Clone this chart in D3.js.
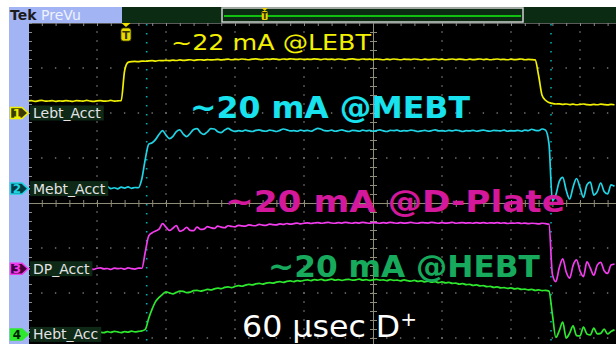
<!DOCTYPE html>
<html>
<head>
<meta charset="utf-8">
<title>Beam current along the linac</title>
<script src="https://cdn.jsdelivr.net/npm/d3@7/dist/d3.min.js"></script>
<style>
  html, body { margin: 0; padding: 0; background: #ffffff; overflow: hidden; }
  svg { display: block; }
  text { font-family: "DejaVu Sans", Verdana, sans-serif; }
</style>
</head>
<body>
<svg id="scope" width="616" height="344"></svg>
<script>
// ---- acquisition settings ----
const sampleStart = -50;      // µs, time of first sample
const sampleStep = 0.5;       // µs between samples
const timeRange = [-50, 50];  // 10 div x 10 µs/div
const divRange = [-4, 4];     // 8 vertical divisions
const triggerTime = -35.8;    // µs
const cursorTimes = [-32.8, 25.8];

// ---- channels ----
const channelNames = ["Lebt_Acct", "Mebt_Acct", "DP_Acct", "Hebt_Acc"];
const channelNumbers = ["1", "2", "3", "4"];
const channelScale = [24, 16, 20, 18];            // mA per division
const channelOffset = [2.0, 0.32, -1.46, -2.92];  // division holding 0 mA

// ---- annotations ----
const annotationTexts = ["~22 mA @LEBT", "~20 mA @MEBT", "~20 mA @D-Plate", "~20 mA @HEBT"];
const pulseNote = ["60 μsec D", "+"];

// ---- beam current samples (mA), one every 0.5 µs from -50 µs ----
const lebt = [
  6.4,6.6,6.2,6.5,6.7,6.3,6.4,6.6,6.2,6.5,
  6.3,6.6,6.4,6.2,6.6,6.5,6.3,6.7,6.4,6.2,
  6.5,6.6,6.3,6.4,6.7,6.3,6.5,6.6,22.5,27.0,
  27.4,27.5,27.4,27.7,27.6,27.8,27.9,27.7,28.0,27.9,
  28.1,27.9,28.2,28.0,28.3,28.1,28.2,28.4,28.1,28.3,
  28.4,28.2,28.5,28.3,28.4,28.6,28.3,28.5,28.7,28.4,
  28.6,28.5,28.8,28.6,28.4,28.7,28.9,28.6,28.5,28.8,
  28.6,28.9,28.7,28.5,28.8,28.6,28.9,28.7,28.6,28.8,
  28.5,28.7,28.6,28.9,28.7,28.5,28.8,28.6,28.7,28.5,
  28.8,28.6,28.4,28.7,28.9,28.6,28.5,28.8,28.6,28.7,
  28.5,28.8,28.6,28.4,28.7,28.5,28.8,28.6,28.4,28.7,
  28.6,28.5,28.8,28.6,28.4,28.7,28.5,28.6,28.8,28.5,
  28.7,28.4,28.6,28.8,28.5,28.7,28.6,28.4,28.7,28.5,
  28.6,28.8,28.5,28.7,28.4,28.6,28.8,28.5,28.6,28.4,
  28.7,28.5,28.6,28.8,28.4,28.6,28.5,28.3,20.0,9.5,
  6.8,5.6,5.1,4.8,4.9,4.6,4.8,4.5,4.7,4.4,
  4.6,4.8,4.5,4.3,4.6,4.4,4.7,4.5,4.3,4.6,
  4.4
];
const mebt = [
  0.2,-0.3,0.5,0.0,0.4,-0.2,0.3,0.6,-0.1,0.2,
  0.5,0.0,-0.3,0.4,0.1,0.6,-0.2,0.3,0.0,0.5,
  0.2,-0.2,0.4,0.7,0.0,0.3,-0.1,0.5,0.2,0.6,
  0.1,0.4,0.3,3.5,10.5,15.8,16.3,17.5,19.3,20.6,
  19.0,17.8,18.6,20.3,20.9,19.4,18.5,19.6,21.0,21.3,
  19.9,19.3,20.2,21.3,21.2,20.2,19.9,20.8,21.4,20.7,
  20.3,20.6,20.4,20.8,20.5,20.3,20.7,20.9,20.5,20.4,
  20.8,20.6,20.3,20.7,21.2,20.9,20.5,20.6,20.4,20.8,
  20.5,20.7,20.4,20.9,21.4,21.1,20.6,20.5,20.8,20.4,
  20.6,20.9,20.5,20.3,20.7,20.6,20.4,20.8,20.5,20.7,
  20.4,20.6,20.9,20.5,20.3,20.7,20.6,20.8,20.4,20.6,
  20.5,20.8,20.6,20.3,20.5,20.7,20.4,20.6,20.9,20.5,
  20.6,20.4,20.7,20.5,20.8,20.6,20.3,20.6,20.5,20.7,
  20.4,20.6,20.8,20.5,20.4,20.7,20.6,20.5,20.8,20.4,
  20.6,20.5,20.7,20.4,20.8,20.6,21.1,20.7,20.6,21.2,
  20.8,16.0,-4.3,-2.2,2.6,4.0,-0.6,-3.7,0.6,3.6,
  0.4,-3.1,1.3,2.3,-2.3,-1.1,2.0,-1.0,-1.9,1.3,
  0.8
];
const dp = [
  0.1,-0.3,0.3,0.0,-0.2,0.4,0.1,-0.4,0.2,0.0,
  0.3,-0.1,0.2,-0.3,0.4,0.0,-0.2,0.3,0.1,-0.3,
  0.2,0.4,-0.1,0.1,-0.3,0.3,0.0,0.2,-0.2,0.4,
  0.0,-0.2,0.3,0.2,7.5,14.6,16.0,16.8,17.6,20.0,
  18.5,17.0,18.0,19.2,16.6,17.2,18.4,17.0,16.9,18.5,
  17.5,17.6,18.7,18.2,17.9,18.9,18.5,18.2,19.1,18.8,
  18.6,19.3,19.0,18.9,19.5,19.2,19.1,19.7,19.4,19.3,
  19.8,19.6,19.5,19.9,19.7,20.1,19.8,20.0,20.3,19.9,
  20.2,20.4,20.1,20.3,20.5,20.2,20.4,20.6,20.3,20.2,
  20.5,20.3,20.6,20.4,20.2,20.5,20.3,20.6,20.4,20.2,
  20.5,20.4,20.2,20.5,20.3,20.6,20.4,20.2,20.5,20.3,
  20.4,20.6,20.3,20.2,20.5,20.4,20.3,20.6,20.4,20.2,
  20.5,20.3,20.4,20.6,20.2,20.4,20.5,20.3,20.4,20.2,
  20.5,20.3,20.5,20.2,20.4,20.3,20.5,20.2,20.4,20.1,
  20.3,20.2,20.4,20.1,20.3,20.0,20.2,20.1,19.9,20.2,
  20.0,19.8,-2.5,-5.8,0.5,4.4,-1.5,-4.2,1.5,3.9,
  -1.0,-3.5,3.0,0.2,-2.9,1.6,2.8,-0.9,-2.1,1.6,
  2.0
];
const hebt = [
  1.0,0.7,1.2,0.9,0.6,1.1,1.3,0.8,1.0,0.6,
  1.2,0.9,1.1,0.7,1.0,1.3,0.8,1.1,0.6,1.0,
  1.2,0.9,0.7,1.1,0.8,1.2,1.0,0.7,1.1,0.9,
  1.3,1.0,1.2,1.4,2.0,6.5,10.2,13.2,14.8,16.0,
  17.0,16.6,16.2,16.8,17.3,17.2,16.7,16.9,17.5,17.6,
  17.3,17.6,18.0,17.8,18.2,18.5,18.3,18.8,19.0,18.7,
  19.2,19.5,19.3,19.7,20.0,19.8,20.2,20.4,20.1,20.5,
  20.7,20.5,20.9,21.1,20.8,21.2,21.4,21.1,21.5,21.3,
  21.6,21.8,21.5,21.9,21.7,22.0,21.6,21.8,22.1,21.7,
  21.9,21.6,21.9,22.0,21.7,21.8,22.1,21.7,21.9,21.6,
  21.8,22.0,21.7,21.8,21.5,21.9,21.6,21.7,21.4,21.8,
  21.5,21.3,21.6,21.2,21.4,21.0,21.3,20.9,21.1,20.7,
  21.0,20.6,20.8,20.4,20.5,20.1,20.3,19.9,20.0,19.6,
  19.8,19.4,19.5,19.1,19.2,18.8,19.0,18.6,18.7,18.4,
  18.6,18.2,18.4,18.0,18.1,17.8,18.0,17.6,17.8,17.5,
  17.6,17.3,8.0,-1.2,1.5,4.9,-1.4,0.5,3.4,-0.5,
  -0.6,2.9,0.2,-0.2,2.5,0.2,0.4,2.1,0.2,1.2,
  1.8
];

// ---- drawing ----
const W = 616, H = 344;
const traces = [lebt, mebt, dp, hebt];
const traceColors = ["#f0f000", "#1fd4e4", "#f23cee", "#2ee82e"];
const noteColors = ["#f2f000", "#18e2ee", "#d3189c", "#17aa5d", "#ffffff"];
const markerFill = ["#3a3a00", "#003a40", "#44003c", "#2ee82e"];
const markerText = ["#f0f000", "#1fd4e4", "#f23cee", "#002000"];

const svg = d3.select("#scope");
const gx0 = 28, gy0 = 23, gw = 690, gh = 360;
const x = d3.scaleLinear().domain(timeRange).range([gx0, gx0 + gw]);
const y = d3.scaleLinear().domain(divRange).range([gy0 + gh, gy0]);

svg.append("defs").append("clipPath").attr("id", "screen")
  .append("rect").attr("x", 29).attr("y", gy0).attr("width", W - 29).attr("height", H - gy0);

// side panel and header strip
const panelBlue = "#a2b4f4";
svg.append("rect").attr("x", 9).attr("y", 7).attr("width", 20).attr("height", H - 7).attr("fill", panelBlue);
svg.append("rect").attr("x", 9).attr("y", 7).attr("width", 113).attr("height", 16).attr("fill", panelBlue);
svg.append("text").attr("x", 10).attr("y", 20).attr("font-size", 14).attr("font-weight", 700)
  .attr("fill", "#1c1c1c").text("Tek");
svg.append("text").attr("x", 41).attr("y", 20).attr("font-size", 14)
  .attr("fill", "#eef2ff").text("PreVu");

// record view bar
svg.append("rect").attr("x", 122).attr("y", 7).attr("width", W - 122).attr("height", 16).attr("fill", "#0b2c12");
const rec = d3.scaleLinear().domain(timeRange).range([222, 523]);
svg.append("rect").attr("x", rec(timeRange[0])).attr("y", 8).attr("width", rec(timeRange[1]) - rec(timeRange[0]))
  .attr("height", 14).attr("fill", "none").attr("stroke", "#cfcfcf").attr("stroke-width", 1.5);
svg.append("line").attr("x1", rec(timeRange[0]) + 2).attr("x2", rec(timeRange[1]) - 2)
  .attr("y1", 16).attr("y2", 16).attr("stroke", "#12c012").attr("stroke-width", 2);
const rt = rec(triggerTime);
svg.append("path").attr("d", `M${rt - 3},8 L${rt + 3},8 L${rt},11 Z`).attr("fill", "#f0d000");
svg.append("rect").attr("x", rt - 3).attr("y", 11).attr("width", 6).attr("height", 9).attr("rx", 1.5)
  .attr("fill", "#e8d000");
svg.append("text").attr("x", rt).attr("y", 19).attr("text-anchor", "middle").attr("font-size", 8)
  .attr("font-weight", 700).attr("fill", "#2a2a00").text("T");

// screen background
svg.append("rect").attr("x", 29).attr("y", gy0).attr("width", W - 29).attr("height", H - gy0).attr("fill", "#000");

const screen = svg.append("g").attr("clip-path", "url(#screen)");

// graticule
const majorT = d3.range(timeRange[0], timeRange[1] + 1e-9, 10);
const minorT = d3.range(timeRange[0], timeRange[1] + 1e-9, 2);
const majorD = d3.range(divRange[0], divRange[1] + 1e-9, 1);
const minorD = d3.range(0, 40.5, 1).map(k => divRange[0] + k * 0.2);

const dots = [];
majorT.filter(t => t !== 0 && t !== timeRange[0]).forEach(t => minorD.forEach(d => dots.push([x(t), y(d)])));
majorD.filter(d => d !== 0 && d !== divRange[1]).forEach(d => minorT.forEach(t => dots.push([x(t), y(d)])));
screen.append("g").selectAll("rect").data(dots).join("rect")
  .attr("x", d => d[0] - 0.7).attr("y", d => d[1] - 0.7).attr("width", 1.4).attr("height", 1.4)
  .attr("fill", "#7c7c7c");

const axisColor = "#8f8c78";
const cross = screen.append("g").attr("stroke", axisColor).attr("stroke-width", 1);
cross.append("line").attr("x1", x(0) + 0.5).attr("x2", x(0) + 0.5).attr("y1", gy0).attr("y2", gy0 + gh);
cross.append("line").attr("x1", gx0).attr("x2", gx0 + gw).attr("y1", y(0) + 0.5).attr("y2", y(0) + 0.5);
cross.selectAll("line.ty").data(minorD).join("line").attr("class", "ty")
  .attr("x1", x(0) - 3).attr("x2", x(0) + 4).attr("y1", d => y(d) + 0.5).attr("y2", d => y(d) + 0.5);
cross.selectAll("line.tx").data(minorT).join("line").attr("class", "tx")
  .attr("x1", t => x(t) + 0.5).attr("x2", t => x(t) + 0.5).attr("y1", y(0) - 3).attr("y2", y(0) + 4);

// frame ticks along top and left edges
const edge = screen.append("g").attr("stroke", "#8a8a8a").attr("stroke-width", 1);
edge.append("line").attr("x1", gx0).attr("x2", W).attr("y1", gy0 + 0.5).attr("y2", gy0 + 0.5).attr("stroke", "#5a5a5a");
edge.selectAll("line.et").data(minorT).join("line").attr("class", "et")
  .attr("x1", t => x(t) + 0.5).attr("x2", t => x(t) + 0.5).attr("y1", gy0).attr("y2", gy0 + 3);
edge.selectAll("line.el").data(minorD).join("line").attr("class", "el")
  .attr("x1", 29).attr("x2", 32).attr("y1", d => y(d) + 0.5).attr("y2", d => y(d) + 0.5);

// time cursors
screen.selectAll("line.cursor").data(cursorTimes).join("line").attr("class", "cursor")
  .attr("x1", t => x(t)).attr("x2", t => x(t)).attr("y1", gy0 + 1).attr("y2", H)
  .attr("stroke", "#00aeb4").attr("stroke-width", 1.6).attr("stroke-dasharray", "1.6 7.4");

// waveforms
traces.forEach((vals, c) => {
  const line = d3.line()
    .x((v, i) => x(sampleStart + i * sampleStep))
    .y(v => y(channelOffset[c] + v / channelScale[c]))
    .curve(d3.curveMonotoneX);
  screen.append("path").datum(vals).attr("d", line)
    .attr("fill", "none").attr("stroke", traceColors[c]).attr("stroke-width", 1.7)
    .attr("stroke-linejoin", "round");
});

// annotations, each stretched to its measured width
function placeText(sel, x0, base, width) {
  const w = sel.node().getComputedTextLength();
  sel.attr("transform", `translate(${x0},${base}) scale(${width / w},1)`);
}
const noteLayout = [
  { x: 171, base: 49.5, w: 200, size: 21.5, weight: 400 },
  { x: 190, base: 118, w: 280, size: 30, weight: 700 },
  { x: 225, base: 212, w: 340, size: 30, weight: 700 },
  { x: 268, base: 277, w: 272, size: 30, weight: 700 }
];
annotationTexts.forEach((s, k) => {
  const L = noteLayout[k];
  const t = screen.append("text").attr("font-size", L.size).attr("font-weight", L.weight)
    .attr("fill", noteColors[k]).text(s);
  placeText(t, L.x, L.base, L.w);
});
const pn = screen.append("text").attr("font-size", 30).attr("fill", noteColors[4]);
pn.append("tspan").text(pulseNote[0]);
pn.append("tspan").attr("font-size", 19).attr("dy", -11).text(pulseNote[1]);
placeText(pn, 242, 337, 175);

// trigger marker
const tx = x(triggerTime);
screen.append("path").attr("d", `M${tx - 4.5},${gy0} L${tx + 4.5},${gy0} L${tx},${gy0 + 4} Z`).attr("fill", "#f0e000");
screen.append("rect").attr("x", tx - 5).attr("y", gy0 + 5).attr("width", 10).attr("height", 13).attr("rx", 2.5)
  .attr("fill", "#e6dc00").attr("stroke", "#4a4600").attr("stroke-width", 0.8);
screen.append("text").attr("x", tx).attr("y", gy0 + 16).attr("text-anchor", "middle").attr("font-size", 11)
  .attr("font-weight", 700).attr("fill", "#3a3600").text("T");

// channel labels and ground markers
channelNames.forEach((name, c) => {
  const cy = y(channelOffset[c]);
  const g = svg.append("g");
  const bg = g.append("rect").attr("fill", "#0e2916");
  const t = g.append("text").attr("x", 33).attr("y", cy + 5).attr("font-size", 14)
    .attr("fill", "#e4e4e4").text(name);
  const w = t.node().getComputedTextLength();
  bg.attr("x", 30).attr("y", cy - 7.5).attr("width", w + 6).attr("height", 15);
  g.append("path").attr("d", `M10.5,${cy - 5.5} L22,${cy - 5.5} L28,${cy} L22,${cy + 5.5} L10.5,${cy + 5.5} Z`)
    .attr("fill", markerFill[c]).attr("stroke", traceColors[c]).attr("stroke-width", 1.5);
  g.append("text").attr("x", 17).attr("y", cy + 4.5).attr("text-anchor", "middle").attr("font-size", 12)
    .attr("font-weight", 700).attr("fill", markerText[c]).text(channelNumbers[c]);
});
</script>
</body>
</html>
